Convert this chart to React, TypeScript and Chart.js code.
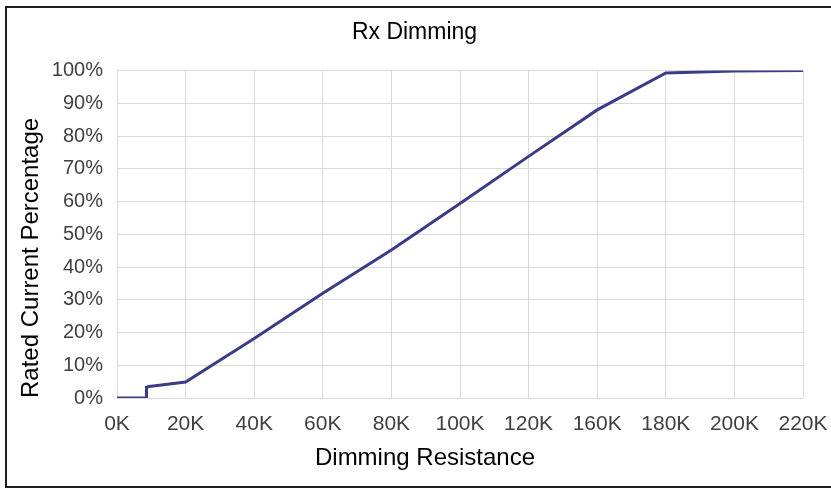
import React, { useEffect, useRef } from "react";
import { Chart, registerables } from "chart.js";

Chart.register(...registerables);

// Category tick labels shown on the x-axis (equally spaced, 140K absent as in the source)
const xTickLabels = ["0K", "20K", "40K", "60K", "80K", "100K", "120K", "160K", "180K", "200K", "220K"];
// Position of each data point along the category axis (index units)
const xPositions = [0, 0.43, 0.43, 0.47, 1, 2, 3, 4, 5, 6, 7, 8, 9, 10];
// Rated current percentage at each point
const yValues = [0, 0, 3.3, 3.5, 4.9, 18.2, 32, 45.2, 59.4, 73.8, 88, 99.3, 99.9, 100];

const chartTitle = "Rx Dimming";
const xTitle = "Dimming Resistance";
const yTitle = "Rated Current Percentage";

const FONT = 'Arial, "Liberation Sans", sans-serif';

const xTitlePlugin = {
  id: "xTitleOffset",
  afterDraw(chart: any) {
    const { ctx, chartArea } = chart;
    ctx.save();
    ctx.font = `24px ${FONT}`;
    ctx.fillStyle = "#000";
    ctx.textAlign = "center";
    ctx.textBaseline = "middle";
    ctx.fillText(xTitle, (chartArea.left + chartArea.right) / 2 - 35, 458);
    ctx.restore();
  },
};

export default function App() {
  const canvasRef = useRef<HTMLCanvasElement | null>(null);

  useEffect(() => {
    document.body.style.margin = "0";
    const canvas = canvasRef.current;
    if (!canvas) return;
    const chart = new Chart(canvas, {
      type: "line",
      data: {
        datasets: [
          {
            data: xPositions.map((x, i) => ({ x, y: yValues[i] })),
            borderColor: "#3b3b88",
            borderWidth: 3,
            pointRadius: 0,
            tension: 0,
            fill: false,
          },
        ],
      },
      plugins: [xTitlePlugin],
      options: {
        responsive: false,
        animation: false,
        layout: { padding: { left: 26, right: 28, top: 8, bottom: 10 } },
        plugins: {
          legend: { display: false },
          tooltip: { enabled: false },
          title: {
            display: true,
            text: chartTitle,
            color: "#000",
            font: { family: FONT, size: 23, weight: "normal" },
            padding: { top: 11, bottom: 24 },
          },
        },
        scales: {
          x: {
            type: "linear",
            min: 0,
            max: 10,
            afterFit: (s: any) => {
              s.height = 81;
              s.paddingLeft = 0;
              s.paddingRight = 0;
            },
            afterBuildTicks: (s: any) => {
              s.ticks = xTickLabels.map((_, i) => ({ value: i }));
            },
            ticks: {
              stepSize: 1,
              color: "#404040",
              padding: 14,
              font: { family: FONT, size: 21 },
              callback: (v: any) => xTickLabels[Math.round(Number(v))] ?? "",
              maxRotation: 0,
              autoSkip: false,
            },
            grid: { color: "#d9d9d9", lineWidth: 1, drawTicks: false },
            border: { display: false },
            title: { display: false },
          },
          y: {
            min: 0,
            max: 100,
            afterFit: (s: any) => {
              s.width = 91;
            },
            ticks: {
              stepSize: 10,
              color: "#404040",
              padding: 14,
              font: { family: FONT, size: 20 },
              callback: (v: any) => v + "%",
            },
            grid: { color: "#d9d9d9", lineWidth: 1, drawTicks: false },
            border: { display: false },
            title: {
              display: true,
              text: yTitle,
              align: "start",
              color: "#000",
              font: { family: FONT, size: 24 },
              padding: { top: -9, bottom: 0 },
            },
          },
        },
      },
    });
    return () => chart.destroy();
  }, []);

  return (
    <div style={{ position: "relative", width: 831, height: 489, overflow: "hidden", background: "#fff" }}>
      <div
        style={{
          position: "absolute",
          left: 5,
          top: 6,
          width: 850,
          height: 478,
          border: "2px solid #1e1e1e",
        }}
      />
      <canvas ref={canvasRef} width={831} height={489} style={{ position: "absolute", left: 0, top: 0 }} />
    </div>
  );
}
